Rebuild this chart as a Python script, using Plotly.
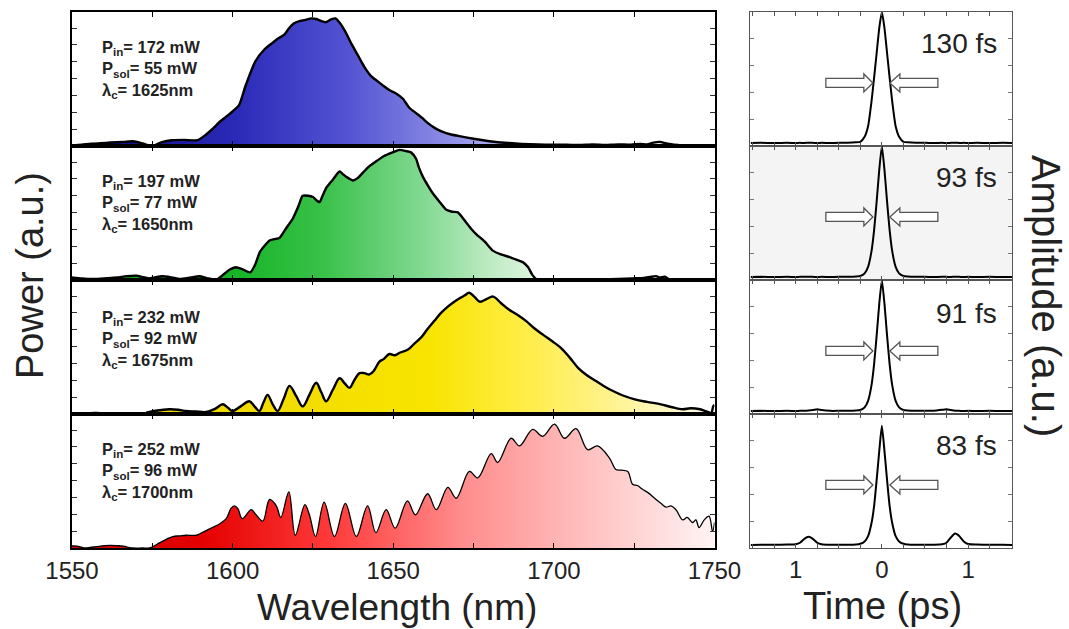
import plotly.graph_objects as go

# ---------------- data ----------------
wl_blue = [1550, 1553, 1556, 1559, 1562, 1566, 1569, 1572, 1575, 1578, 1581, 1585, 1589, 1591.5, 1594, 1596,
           1599, 1602, 1604, 1607, 1610, 1612.5, 1614, 1616, 1617.5, 1619, 1621, 1623, 1624.5, 1626, 1627.5,
           1629, 1630.5, 1632, 1633.5, 1635, 1637, 1639, 1641, 1643, 1645, 1647, 1649, 1651, 1653, 1655, 1657,
           1659, 1661, 1663, 1665, 1668, 1671, 1675, 1678, 1682, 1686, 1690, 1695, 1700, 1704, 1708, 1712,
           1716, 1720, 1724, 1727, 1729, 1731, 1733, 1735, 1737, 1739.5]
pw_blue = [0.005, 0.01, 0.018, 0.022, 0.027, 0.032, 0.037, 0.02, 0.0, 0.03, 0.045, 0.048, 0.045, 0.085, 0.14, 0.19,
           0.25, 0.32, 0.47, 0.66, 0.76, 0.81, 0.84, 0.87, 0.92, 0.96, 0.98, 0.99, 1.0, 0.995, 0.98,
           0.97, 0.99, 1.0, 0.96, 0.90, 0.80, 0.71, 0.62, 0.55, 0.51, 0.47, 0.435, 0.41, 0.37, 0.30, 0.26,
           0.22, 0.175, 0.14, 0.115, 0.09, 0.075, 0.057, 0.045, 0.031, 0.023, 0.017, 0.012, 0.01, 0.01, 0.008, 0.012,
           0.009, 0.013, 0.01, 0.017, 0.012, 0.026, 0.032, 0.02, 0.012, 0.005]

wl_green = [1550, 1553, 1556.5, 1560, 1564, 1567, 1570, 1574, 1578, 1581, 1583.5, 1587, 1589.7, 1592, 1594.9,
            1597, 1599, 1601, 1603, 1605.5, 1607, 1608.5, 1610, 1611.5, 1613, 1614.6, 1616.5, 1618.7, 1620.5,
            1621.8, 1623.5, 1625, 1627, 1628, 1629.1, 1631, 1633.3, 1634.3, 1635.3, 1637.4, 1639, 1640.5, 1642.5,
            1644.7, 1647, 1649.8, 1652, 1654, 1655.5, 1657.1, 1658, 1659.2, 1660.8, 1662.3, 1664.5, 1666.5, 1668.3,
            1670.1, 1671.5, 1672.7, 1674.3, 1675.8, 1678.5, 1681, 1683.5, 1686.2, 1688.3, 1690.3, 1692, 1693.3,
            1694.5, 1697, 1700, 1705, 1710, 1715, 1720, 1724.5, 1728, 1730, 1731.8, 1733, 1734.5, 1736]
pw_green = [0.02, 0.012, 0.008, 0.012, 0.02, 0.03, 0.034, 0.013, 0.029, 0.02, 0.008, 0.02, 0.029, 0.015, 0.002,
            0.04, 0.08, 0.10, 0.085, 0.06, 0.12, 0.22, 0.27, 0.31, 0.32, 0.33, 0.40, 0.48, 0.58,
            0.66, 0.66, 0.65, 0.61, 0.66, 0.72, 0.78, 0.85, 0.83, 0.81, 0.78, 0.80, 0.84, 0.89,
            0.93, 0.97, 1.0, 1.02, 1.01, 1.0, 0.95, 0.88, 0.81, 0.74, 0.68, 0.61, 0.55, 0.535,
            0.53, 0.49, 0.45, 0.40, 0.36, 0.30, 0.23, 0.20, 0.18, 0.16, 0.14, 0.10, 0.04,
            0.008, 0.003, 0.002, 0.003, 0.002, 0.005, 0.008, 0.013, 0.016, 0.024, 0.03, 0.02, 0.026, 0.002]

wl_yellow = [1550, 1553.3, 1555.5, 1557.5, 1559.5, 1561.7, 1564, 1567, 1570, 1573.1, 1576, 1580.3, 1583, 1585.5,
             1588.5, 1591.8, 1594.5, 1596.9, 1598.5, 1600, 1602.5, 1605.2, 1606.8, 1608.3, 1609.6, 1610.9, 1612.4,
             1614, 1615.9, 1617.7, 1619.8, 1621.8, 1623.9, 1626, 1627.6, 1629.1, 1631.2, 1633.3, 1634.9, 1636.4,
             1638, 1639.5, 1641, 1642.6, 1644, 1645.7, 1647, 1648.8, 1650.5, 1652, 1654.6, 1656.5, 1658.7, 1660.5,
             1662.8, 1664.8, 1666.9, 1669, 1670.9, 1672.3, 1673.6, 1675.2, 1677, 1679, 1681.1, 1683.5, 1685.9,
             1688.5, 1691.3, 1694, 1696.7, 1699.5, 1702.1, 1705, 1707.6, 1710.5, 1713, 1715.5, 1718.4, 1721.5,
             1725.2, 1729, 1733.3, 1736.5, 1740.1, 1742.5, 1745.5, 1747.5, 1749, 1749.6, 1750]
pw_yellow = [0.0, 0.0, 0.01, 0.016, 0.008, 0.0, 0.0, 0.0, 0.004, 0.01, 0.025, 0.037, 0.033, 0.023,
             0.02, 0.016, 0.04, 0.076, 0.05, 0.023, 0.06, 0.10, 0.06, 0.023, 0.09, 0.15, 0.08,
             0.023, 0.12, 0.22, 0.14, 0.06, 0.15, 0.245, 0.17, 0.10, 0.19, 0.28, 0.24, 0.205,
             0.27, 0.32, 0.32, 0.31, 0.34, 0.41, 0.43, 0.47, 0.46, 0.48, 0.505, 0.55, 0.60, 0.66,
             0.73, 0.79, 0.84, 0.88, 0.91, 0.93, 0.95, 0.92, 0.88, 0.90, 0.92, 0.87, 0.82,
             0.78, 0.73, 0.67, 0.62, 0.57, 0.52, 0.44, 0.36, 0.30, 0.26, 0.22, 0.18, 0.145,
             0.115, 0.095, 0.076, 0.055, 0.037, 0.045, 0.037, 0.02, 0.01, 0.06, 0.07]
yellow_fill_start = 9  # index where the coloured fill/black trace begins

wl_red = [1550, 1551.5, 1553, 1554, 1556, 1557.5, 1560, 1562, 1564, 1566, 1568.9, 1572, 1574.1, 1577.2, 1579.5,
          1581.4, 1583.5, 1585.5, 1588.7, 1590.5, 1592.8, 1594.5, 1596, 1598, 1599.5, 1600.5, 1601.6, 1603,
          1605.8, 1607.3, 1609.4, 1611.5, 1613.6, 1615, 1617.5, 1619.5, 1622.5, 1623.9, 1625.8, 1628.5, 1631.7,
          1635.1, 1638.5, 1642, 1644.6, 1647.8, 1650.6, 1654.4, 1656.9, 1660.7, 1663.4, 1667, 1669.6, 1673.7,
          1676.3, 1680.5, 1682.5, 1686.7, 1689.3, 1693.4, 1696.5, 1700.2, 1703.3, 1706.9, 1710.5, 1713.6,
          1717.3, 1719.3, 1721, 1723, 1724.5, 1726, 1727.6, 1729.5, 1731.8, 1733.3, 1734.9, 1736.5, 1738,
          1740.1, 1741.5, 1743.2, 1744.2, 1745.2, 1746.8, 1748.3, 1749.4, 1750]
pw_red = [0.016, 0.015, 0.006, 0.0, 0.006, 0.01, 0.018, 0.02, 0.018, 0.014, 0.0, 0.0, 0.0, 0.04, 0.07,
          0.09, 0.095, 0.10, 0.10, 0.12, 0.15, 0.17, 0.19, 0.23, 0.31, 0.33, 0.31, 0.23,
          0.30, 0.26, 0.21, 0.38, 0.33, 0.24, 0.44, 0.10, 0.34, 0.26, 0.09, 0.36, 0.09,
          0.35, 0.09, 0.33, 0.12, 0.30, 0.155, 0.37, 0.26, 0.425, 0.30, 0.475, 0.39, 0.60,
          0.55, 0.74, 0.67, 0.86, 0.80, 0.93, 0.875, 0.97, 0.86, 0.935, 0.77, 0.80,
          0.705, 0.615, 0.61, 0.60, 0.50, 0.49, 0.46, 0.43, 0.38, 0.35, 0.32, 0.33, 0.30,
          0.22, 0.24, 0.20, 0.22, 0.16, 0.22, 0.25, 0.13, 0.20]

delay = [-1.52, -1.4, -1.25, -1.1, -1.0, -0.95, -0.9, -0.85, -0.8, -0.75, -0.7, -0.6, -0.5, -0.4, -0.3, -0.25,
         -0.2, -0.16, -0.12, -0.09, -0.06, -0.03, 0, 0.03, 0.06, 0.09, 0.12, 0.16, 0.2, 0.25, 0.3, 0.4, 0.5,
         0.6, 0.7, 0.75, 0.8, 0.85, 0.9, 0.95, 1.0, 1.1, 1.25, 1.4, 1.51]
ac_130 = [0.003, 0.004, 0.002, 0.004, 0.003, 0.004, 0.003, 0.005, 0.004, 0.003, 0.004, 0.003, 0.004, 0.005, 0.008, 0.012,
          0.05, 0.13, 0.32, 0.50, 0.69, 0.88, 1.0, 0.88, 0.69, 0.50, 0.32, 0.13, 0.05, 0.012, 0.008, 0.005, 0.004,
          0.003, 0.004, 0.003, 0.004, 0.005, 0.003, 0.004, 0.003, 0.004, 0.003, 0.004, 0.003]
ac_93 = [0.003, 0.004, 0.003, 0.004, 0.003, 0.004, 0.004, 0.005, 0.004, 0.003, 0.004, 0.003, 0.004, 0.004, 0.006, 0.01,
         0.03, 0.08, 0.20, 0.36, 0.58, 0.82, 1.0, 0.82, 0.58, 0.36, 0.20, 0.08, 0.03, 0.01, 0.006, 0.004, 0.004,
         0.003, 0.004, 0.004, 0.003, 0.005, 0.004, 0.003, 0.004, 0.003, 0.004, 0.003, 0.003]
ac_91 = [0.003, 0.004, 0.003, 0.004, 0.003, 0.004, 0.004, 0.006, 0.01, 0.016, 0.01, 0.004, 0.004, 0.004, 0.006, 0.01,
         0.03, 0.08, 0.20, 0.36, 0.58, 0.82, 1.0, 0.82, 0.58, 0.36, 0.20, 0.08, 0.03, 0.01, 0.006, 0.004, 0.004,
         0.005, 0.012, 0.016, 0.01, 0.005, 0.004, 0.003, 0.004, 0.003, 0.004, 0.003, 0.003]
ac_83 = [0.003, 0.004, 0.004, 0.006, 0.008, 0.02, 0.05, 0.065, 0.05, 0.02, 0.008, 0.004, 0.004, 0.004, 0.006, 0.012,
         0.03, 0.07, 0.17, 0.30, 0.50, 0.72, 0.91, 0.72, 0.50, 0.30, 0.17, 0.07, 0.03, 0.012, 0.006, 0.004, 0.004,
         0.005, 0.008, 0.02, 0.06, 0.09, 0.07, 0.03, 0.01, 0.006, 0.004, 0.004, 0.003]

spectra = [(wl_blue, pw_blue), (wl_green, pw_green), (wl_yellow, pw_yellow), (wl_red, pw_red)]
autocorr = [ac_130, ac_93, ac_91, ac_83]
pin = ["172", "197", "232", "252"]
psol = ["55", "77", "92", "96"]
lamc = ["1625", "1650", "1675", "1700"]
fwhm = ["130 fs", "93 fs", "91 fs", "83 fs"]
wl_ticks = [1550, 1575, 1600, 1625, 1650, 1675, 1700, 1725, 1750]
wl_ticktext = ["1550", "", "1600", "", "1650", "", "1700", "", "1750"]
t_ticks = [-1.5, -1.25, -1.0, -0.75, -0.5, -0.25, 0, 0.25, 0.5, 0.75, 1.0, 1.25, 1.5]
t_ticktext = ["", "", "1", "", "", "", "0", "", "", "", "1", "", ""]

gradients = [
    dict(cs=[[0, "#06067a"], [0.3, "#2a2ab8"], [0.5, "#5252d2"], [0.65, "#8080e2"], [0.8, "#b4b4f2"], [1, "#f0f0ff"]],
         start=1550, stop=1720),
    dict(cs=[[0, "#109a10"], [0.25, "#08b018"], [0.5, "#38c048"], [0.7, "#80d890"], [0.85, "#c2ecc6"], [1, "#f4fff4"]],
         start=1550, stop=1705),
    dict(cs=[[0, "#ecd400"], [0.5, "#f8e400"], [0.65, "#ffec40"], [0.8, "#fff288"], [0.92, "#fff8c8"], [1, "#fffdf0"]],
         start=1570, stop=1752),
    dict(cs=[[0, "#cc0000"], [0.2, "#e40000"], [0.4, "#ff3a3a"], [0.6, "#ff8c8c"], [0.78, "#ffbcbc"], [1, "#fff6f6"]],
         start=1550, stop=1752),
]
line_w = [2.4, 2.4, 2.4, 1.3]
smooth = [0.6, 0.6, 1.0, 1.0]

# ---------------- layout geometry ----------------
W, H = 1069, 629
ML, MR, MT, MB = 72, 57, 10, 81
PW, PH = W - ML - MR, H - MT - MB


def px(x):
    return (x - ML) / PW


def py(y):
    return (H - MB - y) / PH


left_dom = [0, px(714.5)]
right_dom = [px(750), 1]
ydoms = [[0.75, 1], [0.5, 0.75], [0.25, 0.5], [0, 0.25]]

tick_font = dict(family="Liberation Sans, Arial", size=24, color="#222")

fig = go.Figure()
layout = dict(width=W, height=H, margin=dict(l=ML, r=MR, t=MT, b=MB), showlegend=False,
              plot_bgcolor="white", paper_bgcolor="white", font=dict(family="Liberation Sans, Arial", color="#222"))

shapes = []
annotations = []

for k in range(4):
    xa, ya = f"x{k + 1}", f"y{k + 1}"
    xr, yr = f"x{k + 5}", f"y{k + 5}"
    wl, pw = spectra[k]
    g = gradients[k]
    sm = smooth[k]
    if k == 2:
        s = yellow_fill_start
        fig.add_trace(go.Scatter(x=wl[s:], y=pw[s:], xaxis=xa, yaxis=ya, mode="lines", fill="tozeroy",
                                 line=dict(width=0, shape="spline", smoothing=sm),
                                 fillgradient=dict(type="horizontal", colorscale=g["cs"], start=g["start"], stop=g["stop"])))
        fig.add_trace(go.Scatter(x=wl[:s + 1], y=pw[:s + 1], xaxis=xa, yaxis=ya, mode="lines",
                                 line=dict(color="#777", width=1, shape="spline", smoothing=sm)))
        fig.add_trace(go.Scatter(x=wl[s:], y=pw[s:], xaxis=xa, yaxis=ya, mode="lines",
                                 line=dict(color="black", width=line_w[k], shape="spline", smoothing=sm)))
    else:
        fig.add_trace(go.Scatter(x=wl, y=pw, xaxis=xa, yaxis=ya, mode="lines", fill="tozeroy",
                                 line=dict(color="black", width=line_w[k], shape="spline", smoothing=sm),
                                 fillgradient=dict(type="horizontal", colorscale=g["cs"], start=g["start"], stop=g["stop"])))
    fig.add_trace(go.Scatter(x=delay, y=autocorr[k], xaxis=xr, yaxis=yr, mode="lines",
                             line=dict(color="black", width=2, shape="spline", smoothing=0.5)))

    sfx = "" if k == 0 else str(k + 1)
    sfr = str(k + 5)
    layout["xaxis" + sfx] = dict(domain=left_dom, anchor=ya, range=[1550, 1750], showgrid=False, zeroline=False,
                                 showline=True, linecolor="black", linewidth=1.5, mirror="ticks", ticks="inside",
                                 ticklen=5, tickcolor="black", tickvals=wl_ticks, ticktext=wl_ticktext,
                                 showticklabels=(k == 3), tickfont=tick_font)
    layout["yaxis" + sfx] = dict(domain=ydoms[k], anchor=xa, range=[0, 1.05], showgrid=False, zeroline=False,
                                 showline=True, linecolor="black", linewidth=1.5, mirror="ticks", ticks="inside",
                                 ticklen=5, tickcolor="#333", tick0=0, dtick=0.132, showticklabels=False)
    layout["xaxis" + sfr] = dict(domain=right_dom, anchor=yr, range=[-1.53, 1.51], showgrid=False, zeroline=False,
                                 showline=True, linecolor="#555", linewidth=1.3, mirror="ticks", ticks="inside",
                                 ticklen=4, tickcolor="#555", tickvals=t_ticks, ticktext=t_ticktext,
                                 showticklabels=(k == 3), tickfont=tick_font)
    layout["yaxis" + sfr] = dict(domain=ydoms[k], anchor=xr, range=[-0.02, 1.0], showgrid=False, zeroline=False,
                                 showline=True, linecolor="#555", linewidth=1.3, mirror="ticks", ticks="inside",
                                 ticklen=4, tickcolor="#777", tick0=-0.02, dtick=0.205, showticklabels=False)

    # arrows around the autocorrelation peak
    left_arrow = "M -56,-4.5 L -18,-4.5 L -18,-9 L -9,0 L -18,9 L -18,4.5 L -56,4.5 Z"
    right_arrow = "M 56,-4.5 L 18,-4.5 L 18,-9 L 8,0 L 18,9 L 18,4.5 L 56,4.5 Z"
    for p in (left_arrow, right_arrow):
        shapes.append(dict(type="path", path=p, xref=xr, yref=yr, xsizemode="pixel", ysizemode="pixel",
                           xanchor=0, yanchor=0.46, fillcolor="white", line=dict(color="#555", width=1.3)))

    # parameter text (one block, three lines)
    top = [10, 144, 281, 413][k]
    block = (f"<b>P<sub>in</sub>= {pin[k]} mW</b><br><b>P<sub>sol</sub>= {psol[k]} mW</b>"
             f"<br><b>λ<sub>c</sub>= {lamc[k]}nm</b>")
    annotations.append(dict(text=block, x=px(100), y=py(top + 58), xref="paper", yref="paper",
                            xanchor="left", yanchor="middle", align="left", showarrow=False,
                            font=dict(family="Liberation Sans, Arial", size=16.5, color="#222")))
    annotations.append(dict(text=fwhm[k], x=px(999), y=py(top + 32), xref="paper", yref="paper",
                            xanchor="right", yanchor="middle", showarrow=False,
                            font=dict(family="Liberation Sans, Arial", size=28, color="#222")))

# gray background of the second autocorrelation panel
shapes.append(dict(type="rect", xref="x6 domain", yref="y6 domain", x0=0, x1=1, y0=0, y1=1,
                   fillcolor="#f4f4f4", line=dict(width=0), layer="below"))

annotations += [
    dict(text="Wavelength (nm)", x=px(397), y=py(608), xref="paper", yref="paper", showarrow=False,
         xanchor="center", yanchor="middle", font=dict(family="Liberation Sans, Arial", size=37, color="#222")),
    dict(text="Time (ps)", x=px(882), y=py(606), xref="paper", yref="paper", showarrow=False,
         xanchor="center", yanchor="middle", font=dict(family="Liberation Sans, Arial", size=38, color="#222")),
    dict(text="Power (a.u.)", x=px(30), y=py(275), xref="paper", yref="paper", showarrow=False,
         xanchor="center", yanchor="middle", textangle=-90,
         font=dict(family="Liberation Sans, Arial", size=38, color="#222")),
    dict(text="Amplitude (a.u.)", x=px(1046), y=py(295), xref="paper", yref="paper", showarrow=False,
         xanchor="center", yanchor="middle", textangle=90,
         font=dict(family="Liberation Sans, Arial", size=40, color="#222")),
]
layout["shapes"] = shapes
layout["annotations"] = annotations
fig.update_layout(**layout)
fig.write_html("out.html")
